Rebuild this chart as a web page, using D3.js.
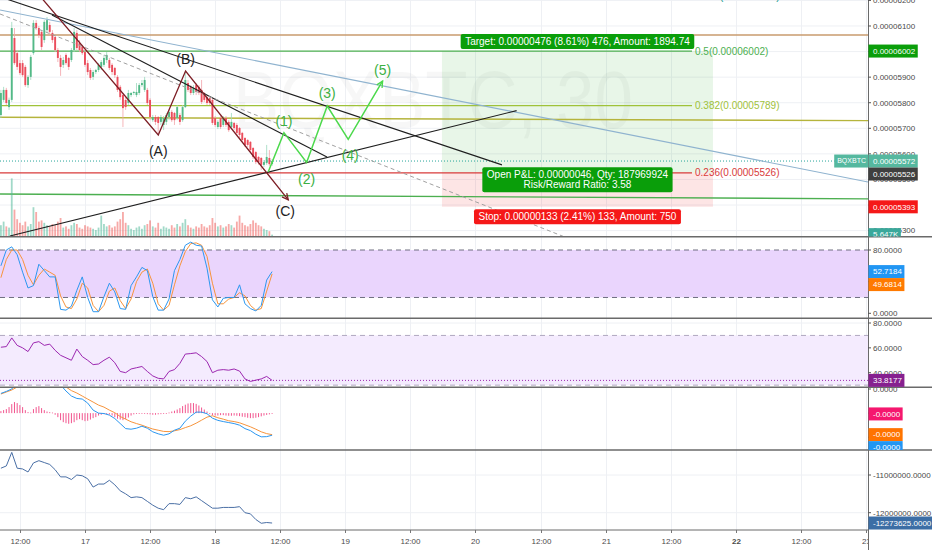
<!DOCTYPE html>
<html>
<head>
<meta charset="utf-8">
<script src="https://cdn.jsdelivr.net/npm/d3@7"></script>
<style>
  body { margin: 0; background: #fff; }
  svg { display: block; font-family: "Liberation Sans", Arial, sans-serif; }
</style>
</head>
<body>
<script>
// BQXBTC 30 min candles, prices in satoshi (1e-8 BTC), first bar 16 Oct 08:30
var opens  = [5752,5811,5850,5783,5811,6053,5994,5955,5955,5940,5869,5901,5994,6112,6092,6077,6045,6084,6104,6073,
              6057,6006,5975,5948,5987,5975,5967,6006,6073,6034,6018,5998,5955,5928,5901,5920,5928,5940,5948,5967,
              5967,5948,5936,5901,5862,5830,5811,5799,5830,5838,5830,5838,5869,5850,5850,5811,5732,5744,5744,5725,
              5713,5725,5744,5764,5760,5740,5752,5732,5783,5877,5862,5838,5869,5862,5850,5838,5822,5818,5811,5740,
              5705,5740,5713,5740,5725,5705,5721,5713,5701,5682,5662,5654,5647,5623,5607,5588,5584,5557,5564,5584,5560];
var highs  = [5850,5862,5858,5820,6116,6092,6006,5967,5967,5948,5908,5987,6123,6123,6100,6084,6123,6135,6116,6084,
              6065,6014,5987,5979,5994,5979,6014,6092,6084,6045,6026,6006,5967,5936,5928,5932,5955,5967,5987,5998,
              5975,5955,5940,5908,5869,5838,5822,5850,5842,5846,5877,5877,5889,5901,5858,5818,5752,5752,5748,5752,
              5748,5760,5772,5772,5764,5791,5760,5791,5920,5889,5869,5869,5877,5869,5889,5842,5830,5822,5818,5748,
              5732,5748,5748,5748,5732,5760,5725,5721,5705,5686,5666,5658,5650,5627,5611,5592,5588,5576,5635,5615,5580];
var lows   = [5740,5803,5791,5772,5803,5948,5928,5908,5901,5862,5858,5889,5987,6084,6053,6006,6034,6073,6065,6034,
              5998,5959,5905,5936,5948,5928,5959,5998,6006,5998,5987,5940,5908,5889,5889,5912,5920,5928,5940,5955,
              5928,5908,5897,5842,5811,5705,5772,5791,5822,5830,5822,5830,5862,5842,5791,5732,5725,5713,5674,5713,
              5693,5713,5732,5725,5713,5732,5713,5725,5779,5842,5830,5830,5830,5830,5795,5803,5791,5791,5713,5705,
              5697,5697,5705,5705,5686,5697,5693,5674,5662,5647,5627,5627,5607,5580,5560,5557,5537,5549,5557,5553,5553];
var closes = [5838,5850,5799,5811,6092,5955,5940,5916,5908,5869,5901,5979,6112,6092,6065,6018,6116,6123,6077,6045,
              6006,5975,5940,5967,5955,5940,6006,6077,6014,6006,5994,5948,5920,5897,5920,5928,5948,5959,5975,5987,
              5936,5920,5908,5850,5822,5779,5783,5838,5838,5842,5842,5869,5877,5889,5799,5744,5744,5725,5721,5744,
              5740,5752,5764,5732,5732,5783,5725,5783,5889,5850,5838,5858,5842,5838,5803,5811,5799,5799,5721,5713,
              5725,5705,5740,5713,5693,5725,5701,5682,5674,5654,5635,5635,5615,5588,5568,5568,5557,5568,5588,5560,5572];
var volumes = [45,60,40,35,240,110,70,55,45,60,40,50,120,100,60,65,55,45,40,50,
               45,60,75,35,40,30,45,55,50,35,30,45,40,35,30,25,35,85,50,40,
               45,35,40,60,70,100,55,45,30,25,35,40,30,45,50,65,40,35,55,30,
               40,35,30,45,35,50,40,55,70,45,35,30,40,35,50,40,35,45,75,55,
               40,45,35,40,50,45,35,60,85,55,45,40,50,65,55,45,40,30,25,20,5.647];

// Stoch RSI, RSI, MACD and OBV sampled hourly from the first bar
var stochK = [60,80,84,74,52,32,35,62,54,46,46,5,4,9,29,46,20,2,2,21,38,27,6,5,35,46,58,54,21,4,
              4,18,54,68,86,90,86,85,57,17,8,19,20,20,36,12,6,3,10,42,52.7184];
var stochD = [45,68,80,80,68,48,36,48,56,52,48,22,8,6,18,38,32,10,2,10,28,32,16,6,18,40,52,56,38,12,
              4,10,36,60,78,88,89,86,72,38,12,12,18,20,26,22,10,4,6,28,49.6814];
var rsi = [60.5,61,68,62,60,57,64,65,62,63,58,54,52,50,59,53,50,46.5,47,50,52.5,48,41,40,43,44,45,41,37.4,35.5,
           35,41,42.5,47.5,55,55.4,56,53,49,40,42,42.5,42,43,41.3,35,33,34,35,37,33.8177];
var macdLine = [9.8,10.8,12,15,17,18,19,20,19.5,18,16.5,14,11,8.5,7.3,7,5,1.5,0,-0.2,-1,-2.7,-5.2,-7.7,-8,
                -7.5,-6.5,-7.5,-9.3,-10.3,-11,-10.3,-8.5,-7.5,-4,-1.5,0.5,0.5,-0.3,-2.5,-3.6,-4.2,-4.7,-5.2,-6,
                -7.7,-8.7,-10.5,-11.8,-11.7,-11];
var macdSignal = [9.5,10.5,11.5,13,14.5,16,17,17.5,18,17.5,17,16,13,11.2,10,8.5,7,5.5,4,3,1.5,0.2,-1.7,-3,-4.3,
                  -5.2,-6,-7,-7.9,-8.5,-9.1,-9.2,-8.8,-8.2,-7.2,-6.3,-5,-3.5,-2,-1.3,-2.3,-3,-3.8,-4.2,-4.8,
                  -5.8,-6.8,-8,-9.3,-10.2,-10.7];
var obv = [-10820000,-10760000,-10400000,-10820000,-10840000,-10920000,-10680000,-10620000,-10670000,-10720000,
           -10860000,-11050000,-11050000,-11120000,-11000000,-11020000,-11100000,-11320000,-11240000,-11240000,
           -11140000,-11260000,-11420000,-11500000,-11600000,-11580000,-11600000,-11700000,-11800000,-11880000,
           -11920000,-11760000,-11760000,-11780000,-11600000,-11630000,-11580000,-11680000,-11780000,-11880000,
           -11880000,-11860000,-11860000,-11860000,-11840000,-12000000,-12030000,-12180000,-12280000,-12260000,-12273625];
// MACD histogram, one value per candle (satoshi)
var macdHist = [1,1.5,2,3,4.5,5.5,5,4,3,1.5,0.5,0.3,2,3,3.5,2.5,1.5,0.8,0.5,0.3,
                -0.8,-2,-3.5,-4.5,-5,-5.3,-5,-4.5,-3.5,-3,-3.5,-4,-3.8,-3.2,-2.5,-2,-1.2,-0.8,-0.5,-0.5,
                -0.7,-1.2,-2,-2.8,-3.2,-3.5,-3,-2.2,-1.2,-0.6,-0.4,-0.3,-0.3,-0.4,-0.5,-0.6,-0.8,-0.8,-0.6,-0.5,
                -0.4,-0.3,0.3,0.8,1.2,1.8,2.5,3.5,4.2,4.8,5,5,4.6,3.8,2.8,1.8,0.8,-0.5,-1,-1.2,
                -1.2,-1,-1,-1.2,-1.3,-1.3,-1.2,-1.3,-1.5,-1.8,-2,-2.3,-2.5,-2.5,-2.3,-2,-1.6,-1.2,-0.9,-0.6,-0.4];

// axis ticks
var priceTicks = [5300,5400,5500,5600,5700,5800,5900,6000,6100,6200];
var stochTicks = [0,40,80];
var rsiTicks = [40,60,80];
var macdTicks = [12,0,-12];
var obvTicks = [-12000000,-11000000];

// drawings: [time, price] anchors
var T = function(d, h, m) { return new Date(2018, 9, d, h, m); };
var blueTrend = [[T(16,8,20), 6162.5], [T(23,0,22), 5490]];
var blackTrends = [
  [[T(16,8,20), 6214], [T(20,4,53), 5557]],
  [[T(16,17,55), 6143], [T(18,20,37), 5588]],
  [[T(16,10,10), 5279], [T(20,7,35), 5769]]
];
var dashedTrend = [[T(16,8,20), 6147], [T(20,17,25), 5267]];
var levelLines = [
  [[T(16,8,20), 6065], [T(23,0,22), 6065]],
  [[T(16,8,20), 5743], [T(23,0,22), 5730]],
  [[T(16,8,20), 5443], [T(23,0,22), 5424]]
];
var abcPoints = [[T(16,15,42), 6217], [T(17,13,31), 5674], [T(17,18,33), 5924], [T(18,13,29), 5420]];
var abcNames = ["(A)", "(B)", "(C)"];
var wavePoints = [[T(18,9,48), 5530], [T(18,12,41), 5683], [T(18,16,52), 5566], [T(18,20,40), 5787],
                  [T(19,0,32), 5657], [T(19,6,53), 5885]];
var waveNames = ["(1)", "(2)", "(3)", "(4)", "(5)"];
var fibLevels = [0.236, 0.382, 0.5, 0.618];
var fibPrices = [5526, 5789, 6002, 6215];
var fibEnd = T(21,15,55);
var posStart = T(19,17,49), posEnd = T(21,19,47);
var posEntry = 5526, posTarget = 6002, posStop = 5393;
var posQty = 187969924, targetAmount = 1894.74, stopAmount = 750;

// ---------------------------------------------------------------
var width = 932, height = 550, plotRight = 868;
var svg = d3.select("body").append("svg").attr("width", width).attr("height", height);

var t0 = new Date(2018, 9, 16, 8, 30);
var candles = closes.map(function(c, i) {
  return {t: d3.timeMinute.offset(t0, 30 * i), o: opens[i], h: highs[i], l: lows[i], c: c, v: volumes[i], hist: macdHist[i]};
});
var hourT = function(j) { return d3.timeHour.offset(t0, j); };

var x = d3.scaleTime().domain([T(16,8,20), T(23,0,22)]).range([0, plotRight]);
var yMain = d3.scaleLinear().domain([5300, 6200]).range([230.6, 0.42]);
var yVol = d3.scaleLinear().domain([0, 250]).range([236, 176]);
var yStoch = d3.scaleLinear().domain([0, 80]).range([313.3, 250]);
var yRsi = d3.scaleLinear().domain([40, 80]).range([372.7, 323]);
var yMacd = d3.scaleLinear().domain([-18, 13]).range([449.3, 387]);
var yObv = d3.scaleLinear().domain([-12000000, -11000000]).range([512.7, 475]);

var panels = {
  main: {top: 0, bottom: 236.5},
  stoch: {top: 237.5, bottom: 318},
  rsi: {top: 319, bottom: 387},
  macd: {top: 388, bottom: 450},
  obv: {top: 451, bottom: 530}
};

var defs = svg.append("defs");
Object.keys(panels).forEach(function(k) {
  var p = panels[k];
  defs.append("clipPath").attr("id", "clip-" + k).append("rect")
    .attr("x", 0).attr("y", p.top).attr("width", plotRight).attr("height", p.bottom - p.top);
  defs.append("clipPath").attr("id", "axis-" + k).append("rect")
    .attr("x", plotRight).attr("y", p.top).attr("width", width - plotRight).attr("height", p.bottom - p.top);
});
defs.append("clipPath").attr("id", "clip-xaxis").append("rect")
  .attr("x", 0).attr("y", 530).attr("width", plotRight).attr("height", 20);

var xTicks = d3.timeHour.every(12).range(x.domain()[0], x.domain()[1]);

// grid
var grid = svg.append("g").attr("stroke", "#eef0f4").attr("stroke-width", 1);
grid.selectAll(".vg").data(xTicks).enter().append("line")
  .attr("x1", function(d) { return Math.round(x(d)) + 0.5; })
  .attr("x2", function(d) { return Math.round(x(d)) + 0.5; })
  .attr("y1", 0).attr("y2", 530);
grid.selectAll(".hg").data(priceTicks).enter().append("line")
  .attr("x1", 0).attr("x2", plotRight)
  .attr("y1", function(d) { return yMain(d); }).attr("y2", function(d) { return yMain(d); });
grid.selectAll(".rg").data(rsiTicks).enter().append("line")
  .attr("x1", 0).attr("x2", plotRight)
  .attr("y1", function(d) { return yRsi(d); }).attr("y2", function(d) { return yRsi(d); });
grid.selectAll(".og").data(obvTicks).enter().append("line")
  .attr("x1", 0).attr("x2", plotRight)
  .attr("y1", function(d) { return yObv(d); }).attr("y2", function(d) { return yObv(d); });

// ---------------- main panel ----------------
var main = svg.append("g").attr("clip-path", "url(#clip-main)");

main.append("text")
  .attr("x", 233).attr("y", 128)
  .attr("font-size", 82).attr("textLength", 400).attr("lengthAdjust", "spacingAndGlyphs")
  .attr("fill", "rgba(0,0,0,0.032)")
  .text("BQXBTC, 30");

// position zones
main.append("rect")
  .attr("x", x(posStart)).attr("width", x(posEnd) - x(posStart))
  .attr("y", yMain(posTarget)).attr("height", yMain(posEntry) - yMain(posTarget))
  .attr("fill", "rgba(0,150,0,0.09)");
main.append("rect")
  .attr("x", x(posStart)).attr("width", x(posEnd) - x(posStart))
  .attr("y", yMain(posEntry)).attr("height", yMain(posStop) - yMain(posEntry))
  .attr("fill", "rgba(240,0,0,0.1)");

var line = d3.line().x(function(d) { return x(d[0]); }).y(function(d) { return yMain(d[1]); });

var levelColors = ["#c99b6e", "#b5b43c", "#4caf50"];
levelLines.forEach(function(l, i) {
  main.append("path").attr("d", line(l)).attr("fill", "none")
    .attr("stroke", levelColors[i]).attr("stroke-width", 1.4);
});

// fib retracement
var fibColors = ["#d83b3b", "#9fc23a", "#4caf50", "#009688"];
fibPrices.forEach(function(p, i) {
  main.append("line")
    .attr("x1", 0).attr("x2", x(fibEnd))
    .attr("y1", yMain(p)).attr("y2", yMain(p))
    .attr("stroke", fibColors[i]).attr("stroke-width", 1.2);
  main.append("text")
    .attr("x", x(fibEnd) + 3).attr("y", yMain(p)).attr("dy", "0.35em")
    .attr("font-size", 10).attr("fill", fibColors[i])
    .text(fibLevels[i] + "(" + (p * 1e-8).toFixed(8) + ")");
});

// last price line
var last = candles[candles.length - 1];
main.append("line")
  .attr("x1", 0).attr("x2", plotRight)
  .attr("y1", yMain(last.c)).attr("y2", yMain(last.c))
  .attr("stroke", "#26a69a").attr("stroke-dasharray", "1 2");

// volume
main.selectAll(".vol").data(candles).enter().append("rect")
  .attr("x", function(d) { return x(d.t) - 0.9; })
  .attr("width", 1.8)
  .attr("y", function(d) { return yVol(d.v); })
  .attr("height", function(d) { return yVol(0) - yVol(d.v); })
  .attr("fill", function(d) { return d.c >= d.o ? "rgba(83,185,155,0.55)" : "rgba(239,83,80,0.5)"; });

// candles
main.selectAll(".wick").data(candles).enter().append("line")
  .attr("x1", function(d) { return x(d.t); }).attr("x2", function(d) { return x(d.t); })
  .attr("y1", function(d) { return yMain(d.h); }).attr("y2", function(d) { return yMain(d.l); })
  .attr("stroke", function(d) { return d.c >= d.o ? "#9ad8bd" : "#f3a3aa"; })
  .attr("stroke-width", 0.8);
main.selectAll(".body").data(candles).enter().append("rect")
  .attr("x", function(d) { return x(d.t) - 0.95; })
  .attr("width", 1.9)
  .attr("y", function(d) { return yMain(Math.max(d.o, d.c)); })
  .attr("height", function(d) { return Math.max(1, Math.abs(yMain(d.o) - yMain(d.c))); })
  .attr("fill", function(d) { return d.c >= d.o ? "#53b987" : "#eb4d5c"; });

// trend lines
main.append("path").attr("d", line(blueTrend)).attr("fill", "none")
  .attr("stroke", "#8fb3cf").attr("stroke-width", 1.1);
blackTrends.forEach(function(l) {
  main.append("path").attr("d", line(l)).attr("fill", "none")
    .attr("stroke", "#1e1e1e").attr("stroke-width", 1.1);
});
main.append("path").attr("d", line(dashedTrend)).attr("fill", "none")
  .attr("stroke", "#a0a0a0").attr("stroke-width", 1).attr("stroke-dasharray", "4 3");

function arrowHead(g, pts, color) {
  var a = pts[pts.length - 2], b = pts[pts.length - 1];
  var x1 = x(a[0]), y1 = yMain(a[1]), x2 = x(b[0]), y2 = yMain(b[1]);
  var ang = Math.atan2(y2 - y1, x2 - x1), len = 7;
  var p = d3.path();
  p.moveTo(x2 - len * Math.cos(ang - 0.45), y2 - len * Math.sin(ang - 0.45));
  p.lineTo(x2, y2);
  p.lineTo(x2 - len * Math.cos(ang + 0.45), y2 - len * Math.sin(ang + 0.45));
  g.append("path").attr("d", p.toString()).attr("fill", "none").attr("stroke", color).attr("stroke-width", 1.3);
}

// ABC correction
main.append("path").attr("d", line(abcPoints)).attr("fill", "none")
  .attr("stroke", "#7d1f26").attr("stroke-width", 1.3);
arrowHead(main, abcPoints, "#7d1f26");
var abcOff = [[0, 16], [0, -12], [-3, 11]];
abcNames.forEach(function(n, i) {
  var p = abcPoints[i + 1];
  main.append("text")
    .attr("x", x(p[0]) + abcOff[i][0]).attr("y", yMain(p[1]) + abcOff[i][1]).attr("dy", "0.35em")
    .attr("text-anchor", "middle").attr("font-size", 14).attr("fill", "#222").text(n);
});

// impulse wave
main.append("path").attr("d", line(wavePoints)).attr("fill", "none")
  .attr("stroke", "#4cd94c").attr("stroke-width", 1.5);
arrowHead(main, wavePoints, "#4cd94c");
var waveOff = [-12, 17, -13, 16, -11];
waveNames.forEach(function(n, i) {
  var p = wavePoints[i + 1];
  main.append("text")
    .attr("x", x(p[0]) + (i === 3 ? 2 : 0)).attr("y", yMain(p[1]) + waveOff[i]).attr("dy", "0.35em")
    .attr("text-anchor", "middle").attr("font-size", 14).attr("fill", "#3cb043").text(n);
});

// position labels
var posMid = (x(posStart) + x(posEnd)) / 2;
function boxLabel(lines, top, bg) {
  var g = main.append("g");
  var texts = lines.map(function(s, i) {
    return g.append("text").attr("x", posMid).attr("y", top + 7.5 + i * 10).attr("dy", "0.35em")
      .attr("text-anchor", "middle").attr("font-size", 10).attr("fill", "#fff").text(s);
  });
  var w = d3.max(texts, function(t) { return t.node().getComputedTextLength(); }) + 9;
  g.insert("rect", "text")
    .attr("x", posMid - w / 2).attr("y", top).attr("width", w).attr("height", 5 + lines.length * 10)
    .attr("rx", 2).attr("fill", bg);
}
var tgt = posTarget - posEntry, stp = posEntry - posStop, pnl = last.c - posEntry;
boxLabel(["Target: " + (tgt * 1e-8).toFixed(8) + " (" + (tgt / posEntry * 100).toFixed(2) + "%) " + tgt +
          ", Amount: " + targetAmount.toFixed(2)], yMain(posTarget) - 17, "#0a9e0a");
boxLabel(["Open P&L: " + (pnl * 1e-8).toFixed(8) + ", Qty: " + posQty,
          "Risk/Reward Ratio: " + (tgt / stp).toFixed(2)], yMain(posEntry) - 5.5, "#0a9e0a");
boxLabel(["Stop: " + (stp * 1e-8).toFixed(8) + " (" + (stp / posEntry * 100).toFixed(2) + "%) " + stp +
          ", Amount: " + stopAmount], yMain(posStop) + 2.5, "#f51818");

// ---------------- Stoch RSI ----------------
var stoch = svg.append("g").attr("clip-path", "url(#clip-stoch)");
stoch.append("rect").attr("x", 0).attr("width", plotRight)
  .attr("y", yStoch(80)).attr("height", yStoch(20) - yStoch(80)).attr("fill", "#ead5fd");
[80, 20].forEach(function(v) {
  stoch.append("line").attr("x1", 0).attr("x2", plotRight).attr("y1", yStoch(v)).attr("y2", yStoch(v))
    .attr("stroke", "#6f6f80").attr("stroke-dasharray", "5 4");
});
var hourLine = function(yS) {
  return d3.line().x(function(d, j) { return x(hourT(j)); }).y(function(d) { return yS(d); });
};
stoch.append("path").attr("d", hourLine(yStoch)(stochD)).attr("fill", "none").attr("stroke", "#f7943c").attr("stroke-width", 1);
stoch.append("path").attr("d", hourLine(yStoch)(stochK)).attr("fill", "none").attr("stroke", "#2c97f0").attr("stroke-width", 1);

// ---------------- RSI ----------------
var rsiG = svg.append("g").attr("clip-path", "url(#clip-rsi)");
rsiG.append("rect").attr("x", 0).attr("width", plotRight)
  .attr("y", yRsi(70)).attr("height", yRsi(30) - yRsi(70)).attr("fill", "#f4ebfe");
[70, 30].forEach(function(v) {
  rsiG.append("line").attr("x1", 0).attr("x2", plotRight).attr("y1", yRsi(v)).attr("y2", yRsi(v))
    .attr("stroke", "#b0a8c0").attr("stroke-dasharray", "5 4");
});
var rsiLast = rsi[rsi.length - 1];
rsiG.append("line").attr("x1", 0).attr("x2", plotRight).attr("y1", yRsi(rsiLast)).attr("y2", yRsi(rsiLast))
  .attr("stroke", "#9c27b0").attr("stroke-dasharray", "1 2");
rsiG.append("path").attr("d", hourLine(yRsi)(rsi)).attr("fill", "none").attr("stroke", "#9c27b0").attr("stroke-width", 1);

// ---------------- MACD ----------------
var macdG = svg.append("g").attr("clip-path", "url(#clip-macd)");
macdG.selectAll(".hist").data(candles).enter().append("rect")
  .attr("x", function(d) { return x(d.t) - 0.5; }).attr("width", 1)
  .attr("y", function(d) { return Math.min(yMacd(0), yMacd(d.hist)); })
  .attr("height", function(d) { return Math.max(0.8, Math.abs(yMacd(d.hist) - yMacd(0))); })
  .attr("fill", "#f2568f");
macdG.append("path").attr("d", hourLine(yMacd)(macdSignal)).attr("fill", "none").attr("stroke", "#f7943c").attr("stroke-width", 1);
macdG.append("path").attr("d", hourLine(yMacd)(macdLine)).attr("fill", "none").attr("stroke", "#2c97f0").attr("stroke-width", 1);

// ---------------- OBV ----------------
var obvG = svg.append("g").attr("clip-path", "url(#clip-obv)");
obvG.append("path").attr("d", hourLine(yObv)(obv)).attr("fill", "none").attr("stroke", "#4a6fa5").attr("stroke-width", 1);

// ---------------- separators and axes ----------------
var sep = svg.append("g").attr("stroke", "#6a6a6a").attr("stroke-width", 1.5);
[236.8, 318.3, 387.3, 450].forEach(function(y) {
  sep.append("line").attr("x1", 0).attr("x2", width).attr("y1", y).attr("y2", y);
});
sep.append("line").attr("x1", 0).attr("x2", plotRight + 0.5).attr("y1", 530).attr("y2", 530).attr("stroke-width", 1);
sep.append("line").attr("x1", plotRight + 0.5).attr("x2", plotRight + 0.5).attr("y1", 0).attr("y2", 550).attr("stroke-width", 1);

function axisTicks(panel, vals, yS, fmt) {
  var g = svg.append("g").attr("clip-path", "url(#axis-" + panel + ")");
  vals.forEach(function(v) {
    g.append("line").attr("x1", plotRight).attr("x2", plotRight + 3).attr("y1", yS(v)).attr("y2", yS(v)).attr("stroke", "#555");
    g.append("text").attr("x", plotRight + 5).attr("y", yS(v)).attr("dy", "0.35em")
      .attr("font-size", 8).attr("fill", "#4a4a4a").text(fmt(v));
  });
  return g;
}
function tags(g, items) {
  items.sort(function(a, b) { return a.y - b.y; });
  for (var i = 1; i < items.length; i++) {
    if (items[i].y < items[i - 1].y + 13) items[i].y = items[i - 1].y + 13;
  }
  items.forEach(function(it) {
    var t = g.append("text").attr("x", plotRight + 5).attr("y", it.y).attr("dy", "0.35em")
      .attr("font-size", 8).attr("fill", "#fff").text(it.text);
    var w = t.node().getComputedTextLength();
    g.insert("rect", function() { return t.node(); })
      .attr("x", plotRight + 0.5).attr("y", it.y - 6.5).attr("width", w + 7).attr("height", 13).attr("fill", it.bg);
  });
}
var sat = function(v) { return (v * 1e-8).toFixed(8); };
var four = function(v) { return v.toFixed(4); };
var tiny = function(v) { return (v * 1e-8).toFixed(4); };

var mainAx = axisTicks("main", priceTicks, yMain, sat);
tags(mainAx, [
  {y: yMain(posTarget), text: sat(posTarget), bg: "#0a9e0a"},
  {y: yMain(last.c), text: sat(last.c), bg: "#55b89f"},
  {y: yMain(posEntry), text: sat(posEntry), bg: "#3f3f3f"},
  {y: yMain(posStop), text: sat(posStop), bg: "#f51818"},
  {y: yVol(last.v), text: last.v.toFixed(3) + "K", bg: "#3aa89b"}
]);
// symbol tag next to last price
var sym = svg.append("g");
var symT = sym.append("text").attr("x", plotRight - 2).attr("y", yMain(last.c)).attr("dy", "0.35em")
  .attr("text-anchor", "end").attr("font-size", 7).attr("fill", "#fff").text("BQXBTC");
var symW = symT.node().getComputedTextLength();
sym.insert("rect", "text").attr("x", plotRight - symW - 5).attr("y", yMain(last.c) - 6.5)
  .attr("width", symW + 5).attr("height", 13).attr("fill", "#55b89f");

var stochAx = axisTicks("stoch", stochTicks, yStoch, four);
tags(stochAx, [
  {y: yStoch(stochK[stochK.length - 1]), text: four(stochK[stochK.length - 1]), bg: "#2196f3"},
  {y: yStoch(stochD[stochD.length - 1]), text: four(stochD[stochD.length - 1]), bg: "#ff7a00"}
]);
var rsiAx = axisTicks("rsi", rsiTicks, yRsi, four);
tags(rsiAx, [{y: yRsi(rsiLast), text: four(rsiLast), bg: "#86208f"}]);
var macdAx = axisTicks("macd", macdTicks, yMacd, tiny);
tags(macdAx, [
  {y: yMacd(macdHist[macdHist.length - 1]), text: tiny(macdHist[macdHist.length - 1]), bg: "#f5176e"},
  {y: yMacd(macdSignal[macdSignal.length - 1]), text: tiny(macdSignal[macdSignal.length - 1]), bg: "#ff7300"},
  {y: yMacd(macdLine[macdLine.length - 1]), text: tiny(macdLine[macdLine.length - 1]), bg: "#2196f3"}
]);
var obvAx = axisTicks("obv", obvTicks, yObv, four);
tags(obvAx, [{y: yObv(obv[obv.length - 1]), text: four(obv[obv.length - 1]), bg: "#3c6ea5"}]);

// time axis
var xa = svg.append("g").attr("clip-path", "url(#clip-xaxis)");
xTicks.forEach(function(d) {
  var xx = Math.round(x(d)) + 0.5;
  xa.append("line").attr("x1", xx).attr("x2", xx).attr("y1", 530).attr("y2", 533).attr("stroke", "#777");
  xa.append("text").attr("x", xx).attr("y", 541.5).attr("dy", "0.35em")
    .attr("text-anchor", "middle").attr("font-size", 8).attr("fill", "#4a4a4a")
    .attr("font-weight", d.getHours() === 0 && d.getDay() === 1 ? "bold" : null)
    .text(d.getHours() === 0 ? d3.timeFormat("%-d")(d) : d3.timeFormat("%H:%M")(d));
});
</script>
</body>
</html>
